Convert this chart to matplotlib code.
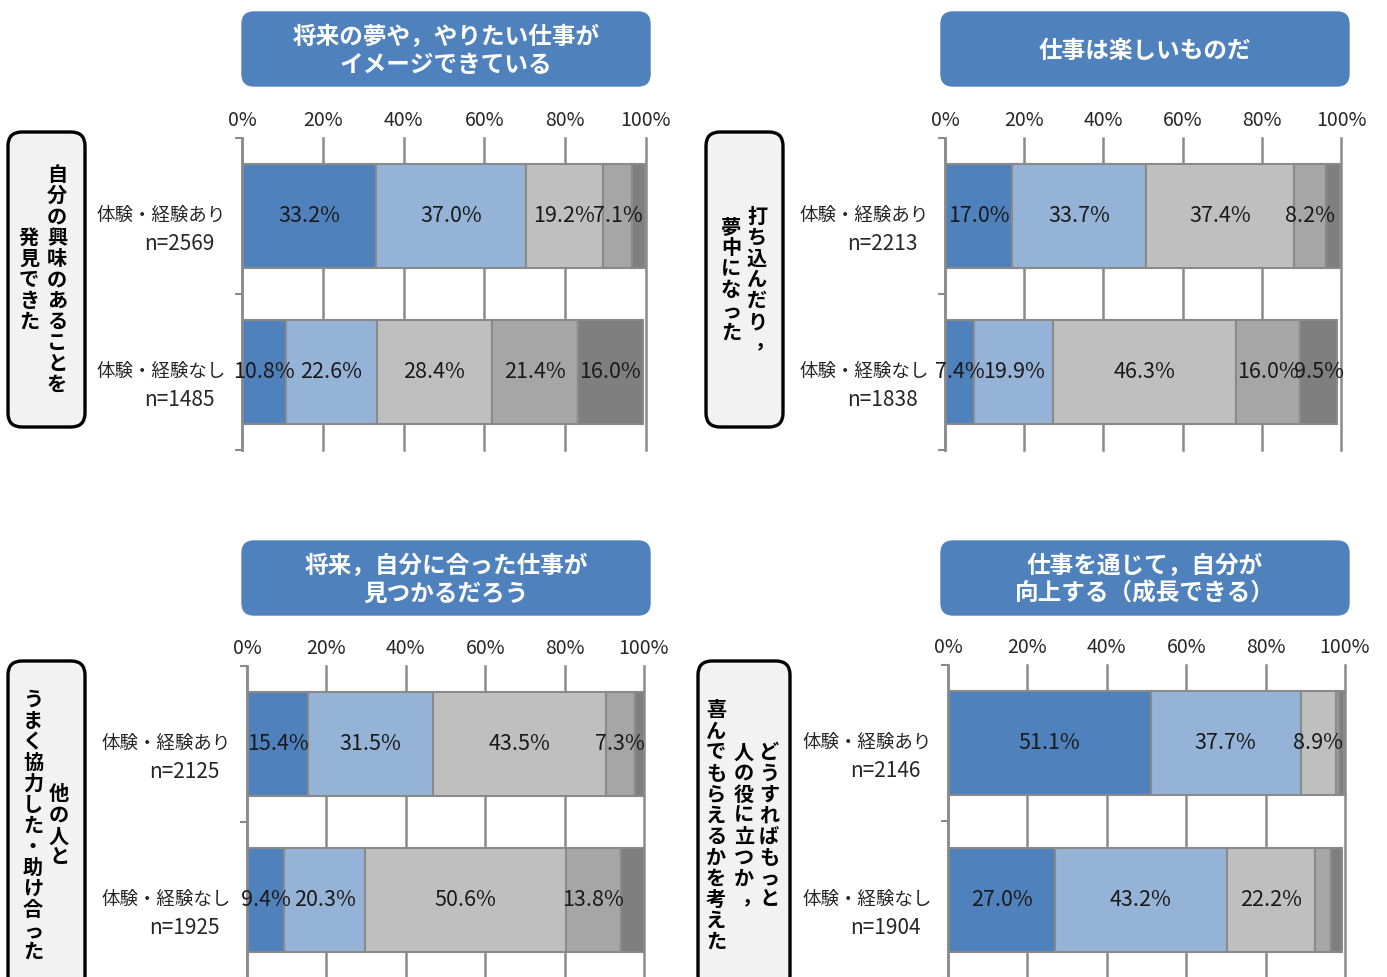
import matplotlib
matplotlib.use("Agg")
import matplotlib.pyplot as plt
from matplotlib.patches import FancyBboxPatch
import numpy as np

plt.rcParams['font.family'] = ['Noto Sans CJK JP', 'DejaVu Sans']

# ---- data ----
titles = ["将来の夢や，やりたい仕事が\nイメージできている",
          "仕事は楽しいものだ",
          "将来，自分に合った仕事が\n見つかるだろう",
          "仕事を通じて，自分が\n向上する（成長できる）"]
# vertical labels, columns from right to left
side_labels = [["自分の興味のあることを", "発見できた"],
               ["打ち込んだり，", "夢中になった"],
               ["他の人と", "うまく協力した・助け合った"],
               ["どうすればもっと", "人の役に立つか，", "喜んでもらえるかを考えた"]]
groups = ["体験・経験あり", "体験・経験なし"]
n_counts = [[2569, 1485], [2213, 1838], [2125, 1925], [2146, 1904]]
shares_1 = [[33.2, 37.0, 19.2, 7.1, 3.3], [10.8, 22.6, 28.4, 21.4, 16.0]]
shares_2 = [[17.0, 33.7, 37.4, 8.2, 3.4], [7.4, 19.9, 46.3, 16.0, 9.5]]
shares_3 = [[15.4, 31.5, 43.5, 7.3, 2.3], [9.4, 20.3, 50.6, 13.8, 5.9]]
shares_4 = [[51.1, 37.7, 8.9, 0.9, 1.1], [27.0, 43.2, 22.2, 4.0, 2.9]]
shares = [shares_1, shares_2, shares_3, shares_4]
xticks = [0, 20, 40, 60, 80, 100]

colors = ["#4F81BD", "#95B3D7", "#BFBFBF", "#A6A6A6", "#7F7F7F"]
edge = "#8a8a8a"

# ---- layout (pixels) ----
W, H = 1387, 977
plot_boxes = [(242, 138, 646, 450), (945, 138, 1341, 450),
              (247, 666, 644, 978), (948, 665, 1345, 978)]
title_boxes = [(242, 12, 650, 86), (941, 12, 1349, 86),
               (242, 541, 650, 615), (941, 541, 1349, 615)]
side_boxes = [(8, 132, 85, 427), (706, 132, 783, 427),
              (8, 661, 85, 990), (698, 661, 790, 990)]
side_cols = [[57, 29], [757, 731], [59, 33], [769, 744, 716]]

fig = plt.figure(figsize=(W / 100, H / 100), dpi=100)
over = fig.add_axes([0, 0, 1, 1])
over.set_xlim(0, W)
over.set_ylim(H, 0)
over.axis('off')


def vertical_column(ax, text, x, yc, pitch, **kw):
    n = len(text)
    y0 = yc - (n - 1) / 2 * pitch
    for i, ch in enumerate(text):
        dx, dy = 0, 0
        if ch in "，、":
            # vertical writing: comma sits to the right in its cell
            dx, dy = pitch * 0.35, -pitch * 0.1
        ax.text(x + dx, y0 + i * pitch + dy, ch, ha='center', va='center', **kw)


for k in range(4):
    # title box
    l, t, r, b = title_boxes[k]
    over.add_patch(FancyBboxPatch((l + 12, t + 12), r - l - 24, b - t - 24,
                                  boxstyle="round,pad=12", fc="#4F81BD", ec="#4F81BD", lw=1))
    over.text((l + r) / 2, (t + b) / 2 + 2, titles[k], ha='center', va='center',
              color='white', fontsize=17, fontweight='bold', linespacing=1.2)

    # side box
    l, t, r, b = side_boxes[k]
    over.add_patch(FancyBboxPatch((l + 14, t + 14), r - l - 28, b - t - 28,
                                  boxstyle="round,pad=14", fc="#F2F2F2", ec="black", lw=2.4))
    for col, x in zip(side_labels[k], side_cols[k]):
        vertical_column(over, col, x, (t + b) / 2, 21, fontsize=14.5,
                        fontweight='bold', color='black')

    # chart
    l, t, r, b = plot_boxes[k]
    ax = fig.add_axes([l / W, 1 - b / H, (r - l) / W, (b - t) / H])
    vals = np.array(shares[k])
    left = np.zeros(len(groups))
    ypos = [0.5, 1.5]
    for j in range(vals.shape[1]):
        bars = ax.barh(ypos, vals[:, j], left=left, height=0.667, color=colors[j],
                       edgecolor=edge, linewidth=1.5, zorder=2)
        labels = [f"{v:.1f}%" if v >= 7 else "" for v in vals[:, j]]
        ax.bar_label(bars, labels=labels, label_type='center', fontsize=15.5,
                     color='#1a1a1a', zorder=3)
        left += vals[:, j]

    ax.set_xlim(0, 100)
    ax.set_ylim(2, 0)
    ax.set_xticks(xticks)
    ax.set_xticklabels([f"{v}%" for v in xticks], fontsize=14, color='#262626')
    ax.xaxis.tick_top()
    ax.tick_params(axis='x', length=0, pad=5)
    ax.set_yticks([0, 1, 2])
    ax.set_yticklabels([])
    ax.tick_params(axis='y', length=5, width=1.5, color=edge)
    ax.grid(axis='x', color=edge, lw=1.8, zorder=0)
    for gl in ax.get_xgridlines():
        gl.set_clip_on(False)
    for s in ['top', 'right', 'bottom']:
        ax.spines[s].set_visible(False)
    ax.spines['left'].set_color(edge)
    ax.spines['left'].set_linewidth(1.8)
    ax.set_facecolor('none')
    ax.set_axisbelow(True)

    for i, y in enumerate(ypos):
        ax.annotate(groups[i], xy=(0, y), xycoords=('axes fraction', 'data'),
                    xytext=(-11.5, 0), textcoords='offset points',
                    ha='right', va='center', fontsize=13.3, color='#262626')
        ax.annotate(f"n={n_counts[k][i]}", xy=(0, y), xycoords=('axes fraction', 'data'),
                    xytext=(-19.5, -20), textcoords='offset points',
                    ha='right', va='center', fontsize=15, color='#262626')

fig.savefig("out.png", dpi=100)
